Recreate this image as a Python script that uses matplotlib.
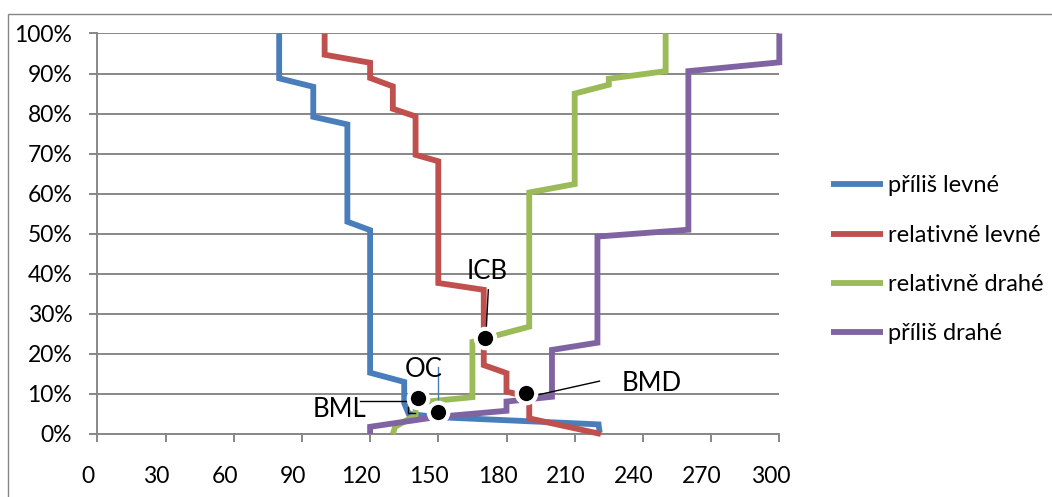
import matplotlib
matplotlib.use("Agg")
import matplotlib.pyplot as plt
import matplotlib.transforms as mtransforms
from matplotlib.patches import Rectangle
from matplotlib.ticker import PercentFormatter, MultipleLocator

plt.rcParams['font.family'] = ['Lato', 'DejaVu Sans']

# cumulative answers (price, share of respondents in %)
too_cheap_price = [80, 80, 95, 95, 110, 110, 120, 120, 135, 135, 137, 150, 220.5, 221]
too_cheap_share = [100, 88.8, 86.7, 79.2, 77.3, 53.0, 50.9, 15.3, 13.0, 7.7, 5.0, 4.2, 2.4, 0.3]

cheap_price = [100, 100, 120, 120, 130, 130, 140, 140, 150, 150, 170, 170, 180, 180, 190, 190, 221.5]
cheap_share = [100, 94.7, 92.7, 88.9, 86.8, 81.2, 79.3, 69.7, 68.1, 37.7, 36.0, 17.2, 15.2, 10.6, 9.2, 3.9, 0]

expensive_price = [130, 131, 140, 140, 165, 165, 190, 190, 210, 210, 225, 225, 250, 250]
expensive_share = [0, 1.8, 4.7, 7.8, 9.2, 23.0, 26.8, 60.3, 62.4, 85.0, 87.2, 88.7, 90.6, 100]

too_exp_price = [120, 120, 150, 180, 180, 200, 200, 220, 220, 260, 260, 300, 300]
too_exp_share = [0, 1.8, 4.3, 5.8, 8.1, 9.3, 21.0, 22.8, 49.3, 51.0, 90.6, 92.8, 100]

series_names = ["příliš levné", "relativně levné", "relativně drahé", "příliš drahé"]
series_colors = ["#4A7EBB", "#C0504D", "#9BBB59", "#8064A2"]

# intersection points
point_names = ["BML", "OC", "ICB", "BMD"]
point_price = [141, 150, 170.6, 188.6]
point_share = [9.0, 5.6, 24.0, 10.3]
label_pos = [(106.7, 6.0), (143.7, 16.2), (171.3, 40.5), (243.9, 12.7)]

grid_color = "#878787"

fig = plt.figure(figsize=(10.52, 4.97), dpi=100)
ax = fig.add_axes([97.3 / 1052, 63 / 497, 682 / 1052, 400.5 / 497])

series = [(too_cheap_price, too_cheap_share), (cheap_price, cheap_share),
          (expensive_price, expensive_share), (too_exp_price, too_exp_share)]
for (px, py), name, col in zip(series, series_names, series_colors):
    ax.plot(px, py, color=col, lw=4.2, label=name, solid_joinstyle='miter',
            solid_capstyle='butt', clip_on=False, zorder=3)

# leader lines
ax.plot([115.6, 138.9], [8.3, 8.3], color='black', lw=1, zorder=4)
ax.plot([136.7, 136.7, 139.8], [6.7, 5.2, 5.2], color='black', lw=1, zorder=4)
ax.plot([150, 150], [16.7, 5.6], color="#4A7EBB", lw=1, zorder=4)
ax.plot([172, 171], [36, 25.2], color='black', lw=1, zorder=4)
ax.plot([220.9, 193.3], [13.2, 9.7], color='black', lw=1, zorder=4)

ax.plot(point_price, point_share, 'o', ms=14, mfc='black', mec='white',
        mew=3, ls='none', zorder=5, clip_on=False)
for name, (tx, ty) in zip(point_names, label_pos):
    ax.text(tx, ty, name, fontsize=18.5, ha='center', va='center', zorder=6)

ax.set_xlim(0, 300)
ax.set_ylim(0, 100)
ax.xaxis.set_major_locator(MultipleLocator(30))
ax.yaxis.set_major_locator(MultipleLocator(10))
ax.yaxis.set_major_formatter(PercentFormatter(100, decimals=0))
ax.grid(axis='y', color=grid_color, lw=1.4)
ax.set_axisbelow(True)
for s in ['top', 'right']:
    ax.spines[s].set_visible(False)
for s in ['left', 'bottom']:
    ax.spines[s].set_color(grid_color)
    ax.spines[s].set_linewidth(1.4)
ax.tick_params(axis='both', direction='out', color=grid_color, width=1.4,
               length=6, labelsize=16.5)
ax.tick_params(axis='y', pad=12)
ax.tick_params(axis='x', pad=17)
shift = mtransforms.ScaledTranslation(-0.09, 0, fig.dpi_scale_trans)
for lbl in ax.get_xticklabels():
    lbl.set_transform(lbl.get_transform() + shift)

fig.legend(loc='center left', bbox_to_anchor=(810 / 1052, 1 - 260 / 497),
           frameon=False, fontsize=17, handlelength=2.2, handletextpad=0.2,
           labelspacing=1.2)

# chart area border
fig.patches.append(Rectangle((7.5 / 1052, -0.1), 1.2, (497 - 13.5) / 497 + 0.1,
                             transform=fig.transFigure, fill=False,
                             edgecolor="#868686", lw=1))

fig.savefig("out.png", dpi=100)
